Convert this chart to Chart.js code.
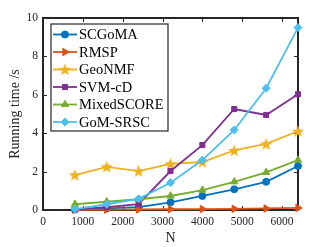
<!DOCTYPE html>
<html>
<head>
<meta charset="utf-8">
<script src="https://cdn.jsdelivr.net/npm/chart.js@4.4.0/dist/chart.umd.min.js"></script>
<style>
  html, body { margin: 0; padding: 0; background: #fff; }
  #wrap { width: 329px; height: 247px; }
</style>
</head>
<body>
<div id="wrap"><canvas id="chart"></canvas></div>
<script>
// values
const nValues = [800, 1600, 2400, 3200, 4000, 4800, 5600, 6400];
const seriesNames = ['SCGoMA', 'RMSP', 'GeoNMF', 'SVM-cD', 'MixedSCORE', 'GoM-SRSC'];
const scgoma = [0.02, 0.08, 0.15, 0.40, 0.73, 1.08, 1.47, 2.29];
const rmsp = [0.01, 0.02, 0.03, 0.04, 0.05, 0.06, 0.08, 0.11];
const geonmf = [1.82, 2.25, 2.03, 2.40, 2.50, 3.10, 3.44, 4.10];
const svmcd = [0.03, 0.15, 0.30, 2.03, 3.38, 5.26, 4.95, 6.03];
const mixedscore = [0.30, 0.43, 0.56, 0.73, 1.04, 1.47, 1.96, 2.60];
const gomsrsc = [0.05, 0.30, 0.58, 1.42, 2.60, 4.17, 6.34, 9.50];
const yTicks = [0, 2, 4, 6, 8, 10];
const xTicks = [0, 1000, 2000, 3000, 4000, 5000, 6000];

const colors = ['#0072BD', '#D95319', '#EDB120', '#7E2F8E', '#77AC30', '#4DBEEE'];
const axisColor = '#262626';
const serif = '"Liberation Serif", "Times New Roman", serif';

// filled pentagram, Chart.js 'star' is only an outline
function starImage(color, r) {
  const c = document.createElement('canvas');
  const size = Math.ceil(r * 2 + 2);
  c.width = size; c.height = size;
  const g = c.getContext('2d');
  g.translate(size / 2, size / 2 + 0.5);
  g.beginPath();
  for (let i = 0; i < 10; i++) {
    const rad = i % 2 === 0 ? r : r * 0.42;
    const a = -Math.PI / 2 + i * Math.PI / 5;
    g.lineTo(rad * Math.cos(a), rad * Math.sin(a));
  }
  g.closePath();
  g.fillStyle = color;
  g.fill();
  return c;
}

const seriesValues = [scgoma, rmsp, geonmf, svmcd, mixedscore, gomsrsc];
const styles = [
  { pointStyle: 'circle', radius: 3.5, rotation: 0 },
  { pointStyle: 'triangle', radius: 4.3, rotation: 90 },
  { pointStyle: starImage(colors[2], 6.5), radius: 6, rotation: 0 },
  { pointStyle: 'rect', radius: 3.6, rotation: 0 },
  { pointStyle: 'triangle', radius: 4.2, rotation: 0 },
  { pointStyle: 'rectRot', radius: 4, rotation: 0 }
];

const datasets = seriesNames.map((name, i) => ({
  label: name,
  data: nValues.map((n, j) => ({ x: n, y: seriesValues[i][j] })),
  borderColor: colors[i],
  backgroundColor: colors[i],
  borderWidth: 1.8,
  pointStyle: styles[i].pointStyle,
  pointRadius: styles[i].radius,
  pointRotation: styles[i].rotation,
  pointBorderWidth: 1,
  order: seriesNames.length - i,
  clip: false,
  tension: 0
}));

// box round the axes with inward ticks (under the data), legend on top
const frame = {
  id: 'frame',
  beforeDatasetsDraw(chart) {
    const ctx = chart.ctx;
    const a = chart.chartArea;
    const xs = chart.scales.x, ys = chart.scales.y;
    const tl = 4;
    ctx.save();
    ctx.strokeStyle = axisColor;
    ctx.lineWidth = 1;
    ctx.beginPath();
    xs.ticks.forEach(t => {
      const px = Math.round(xs.getPixelForValue(t.value)) + 0.5;
      ctx.moveTo(px, a.bottom); ctx.lineTo(px, a.bottom - tl);
      ctx.moveTo(px, a.top); ctx.lineTo(px, a.top + tl);
    });
    ys.ticks.forEach(t => {
      const py = Math.round(ys.getPixelForValue(t.value)) + 0.5;
      ctx.moveTo(a.left, py); ctx.lineTo(a.left + tl, py);
      ctx.moveTo(a.right, py); ctx.lineTo(a.right - tl, py);
    });
    ctx.stroke();
    ctx.lineWidth = 2;
    ctx.strokeRect(a.left, a.top, a.right - a.left, a.bottom - a.top);
    ctx.restore();
  },
  afterDatasetsDraw(chart) {
    const ctx = chart.ctx;
    const a = chart.chartArea;
    ctx.save();
    const lx = a.left + 8, ly = a.top + 6, lw = 117, lh = 107;
    ctx.fillStyle = '#fff';
    ctx.fillRect(lx, ly, lw, lh);
    ctx.strokeStyle = axisColor;
    ctx.lineWidth = 1.2;
    ctx.strokeRect(lx, ly, lw, lh);
    ctx.font = '14.5px ' + serif;
    ctx.textBaseline = 'middle';
    chart.data.datasets.forEach((ds, i) => {
      const y = ly + 10.5 + i * 17.5;
      ctx.strokeStyle = ds.borderColor;
      ctx.lineWidth = 1.8;
      ctx.beginPath();
      ctx.moveTo(lx + 2, y); ctx.lineTo(lx + 26, y);
      ctx.stroke();
      ctx.fillStyle = ds.backgroundColor;
      ctx.strokeStyle = ds.borderColor;
      ctx.lineWidth = 1;
      Chart.helpers.drawPoint(ctx, {
        pointStyle: ds.pointStyle, radius: ds.pointRadius,
        rotation: ds.pointRotation, borderWidth: 1
      }, lx + 14, y);
      ctx.fillStyle = '#000';
      ctx.fillText(ds.label, lx + 28, y + 1);
    });
    ctx.restore();
  }
};

new Chart(document.getElementById('chart'), {
  type: 'line',
  data: { datasets },
  options: {
    responsive: true,
    maintainAspectRatio: false,
    animation: false,
    layout: { padding: { top: 18, right: 31, left: 0, bottom: 0 } },
    plugins: { legend: { display: false }, tooltip: { enabled: false } },
    scales: {
      x: {
        type: 'linear',
        min: 0,
        max: 6400,
        afterBuildTicks: s => { s.ticks = xTicks.map(v => ({ value: v })); },
        afterFit: s => { s.height = 37; },
        grid: { display: false, drawTicks: false },
        border: { display: false },
        ticks: { color: '#262626', padding: 5, maxRotation: 0, autoSkip: false, callback: v => String(v), font: { family: serif, size: 11.5 } },
        title: { display: true, text: 'N', color: '#262626', padding: { top: 0, bottom: 0 }, font: { family: serif, size: 14 } }
      },
      y: {
        min: 0,
        max: 10,
        afterBuildTicks: s => { s.ticks = yTicks.map(v => ({ value: v })); },
        afterFit: s => { s.width = 43; },
        grid: { display: false, drawTicks: false },
        border: { display: false },
        ticks: { color: '#262626', padding: 5, callback: v => String(v), font: { family: serif, size: 11.5 } },
        title: { display: true, text: 'Running time /s', color: '#262626', padding: { top: 7, bottom: 0 }, font: { family: serif, size: 14 } }
      }
    }
  },
  plugins: [frame]
});
</script>
</body>
</html>
